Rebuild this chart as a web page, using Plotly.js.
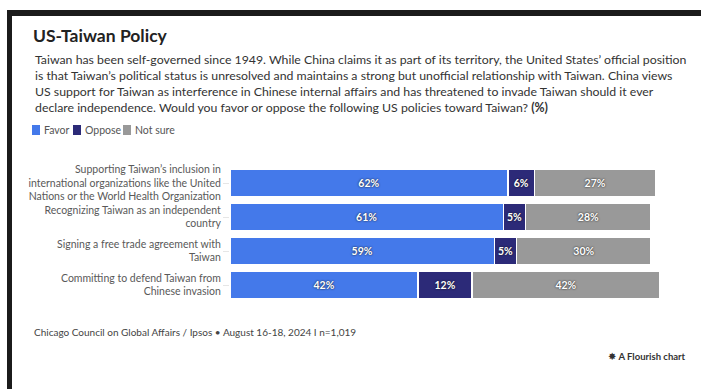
<!DOCTYPE html>
<html>
<head>
<meta charset="utf-8">
<script src="https://cdn.plot.ly/plotly-3.0.1.min.js"></script>
<style>
  html, body { margin:0; padding:0; background:#fff; }
  #wrap { position:relative; width:701px; height:389px; overflow:hidden; }
  #chart { position:absolute; left:0; top:0; width:701px; height:389px; }
  .bt { position:absolute; left:7px; top:10px; width:694px; height:6px; background:#1b1b1b; pointer-events:none; }
  .bl { position:absolute; left:7px; top:10px; width:5px; height:379px; background:#1b1b1b; pointer-events:none; }
</style>
</head>
<body>
<div id="wrap">
  <div id="chart"></div>
  <div class="bt"></div>
  <div class="bl"></div>
</div>
<script>
const categories = [
  "Supporting Taiwan\u2019s inclusion in<br>international organizations like the United<br>Nations or the World Health Organization",
  "Recognizing Taiwan as an independent<br>country",
  "Signing a free trade agreement with<br>Taiwan",
  "Committing to defend Taiwan from<br>Chinese invasion"
];
const favor   = [62, 61, 59, 42];
const oppose  = [6, 5, 5, 12];
const notSure = [27, 28, 30, 42];
const seriesNames = ["Favor", "Oppose", "Not sure"];
const colors = ["#4479ea", "#2c2a78", "#999999"];

const FONT = "Lato, 'Open Sans', sans-serif";
const values = [favor, oppose, notSure];
const traces = values.map((v, i) => ({
  type: "bar",
  orientation: "h",
  name: seriesNames[i],
  y: categories,
  x: v,
  text: v.map(d => d + "%"),
  textposition: "inside",
  insidetextanchor: "middle",
  textangle: 0,
  constraintext: "none",
  textfont: { family: FONT, size: 10.5, color: "#ffffff", weight: 700, shadow: "0px 0px 2px #111" },
  marker: { color: colors[i], line: { color: "#ffffff", width: 1.5 } },
  hoverinfo: "skip",
  showlegend: false
}));

// pixel -> paper helpers (plot area: x 230..678, y 166..302)
const PL = 230, PW = 448, PT = 166, PH = 136;
const px = x => (x - PL) / PW;
const py = y => (PT + PH - y) / PH;

// legend built from the series names/colours
const legendX = [32, 73, 123];
const legendShapes = seriesNames.map((n, i) => ({
  type: "rect", xref: "paper", yref: "paper",
  x0: px(legendX[i]), x1: px(legendX[i] + 8),
  y0: py(135), y1: py(125),
  fillcolor: colors[i], line: { width: 0 }, layer: "above"
}));
const legendAnn = seriesNames.map((n, i) => ({
  xref: "paper", yref: "paper",
  x: px(legendX[i] + 9.5), y: py(130),
  xanchor: "left", yanchor: "middle",
  showarrow: false, text: n,
  font: { family: FONT, size: 10.5, color: "#555555" }
}));

const layout = {
  width: 701, height: 389,
  paper_bgcolor: "#ffffff", plot_bgcolor: "#ffffff",
  barmode: "stack",
  bargap: 0.2,
  margin: { l: PL, r: 701 - PL - PW, t: PT, b: 389 - PT - PH, pad: 0 },
  font: { family: FONT, color: "#555555" },
  showlegend: false,
  title: {
    text: "<b>US-Taiwan Policy</b>",
    xref: "container", yref: "container",
    x: 33/701, xanchor: "left",
    y: 1 - 36/389, yanchor: "middle",
    font: { family: FONT, size: 17.5, color: "#222222" }
  },
  xaxis: {
    range: [0, 100],
    showgrid: false, zeroline: false, showticklabels: false, showline: false, ticks: "",
    fixedrange: true
  },
  yaxis: {
    autorange: "reversed",
    showgrid: false, zeroline: false, showline: false,
    ticks: "outside", ticklen: 6, tickcolor: "#e6e6e6",
    tickfont: { family: FONT, size: 10.5, color: "#595959" },
    automargin: false,
    fixedrange: true
  },
  shapes: legendShapes,
  annotations: legendAnn.concat([
    {
      xref: "paper", yref: "paper",
      x: px(33), y: py(50),
      xanchor: "left", yanchor: "top", align: "left",
      showarrow: false,
      text: "Taiwan has been self-governed since 1949. While China claims it as part of its territory, the United States\u2019 official position<br>is that Taiwan\u2019s political status is unresolved and maintains a strong but unofficial relationship with Taiwan. China views<br>US support for Taiwan as interference in Chinese internal affairs and has threatened to invade Taiwan should it ever<br>declare independence. Would you favor or oppose the following US policies toward Taiwan? <b>(%)</b>",
      font: { family: FONT, size: 12.3, color: "#333333" }
    },
    {
      xref: "paper", yref: "paper",
      x: px(32), y: py(332),
      xanchor: "left", yanchor: "middle", align: "left",
      showarrow: false,
      text: "Chicago Council on Global Affairs / Ipsos \u2022 August 16-18, 2024 I n=1,019",
      font: { family: FONT, size: 10, color: "#444444" }
    },
    {
      xref: "paper", yref: "paper",
      x: px(688), y: py(356),
      xanchor: "right", yanchor: "middle", align: "right",
      showarrow: false,
      text: "\u2738 <b>A Flourish chart</b>",
      font: { family: FONT, size: 9.5, color: "#333333" }
    }
  ])
};

Plotly.newPlot("chart", traces, layout, { displayModeBar: false, staticPlot: true });
</script>
</body>
</html>
